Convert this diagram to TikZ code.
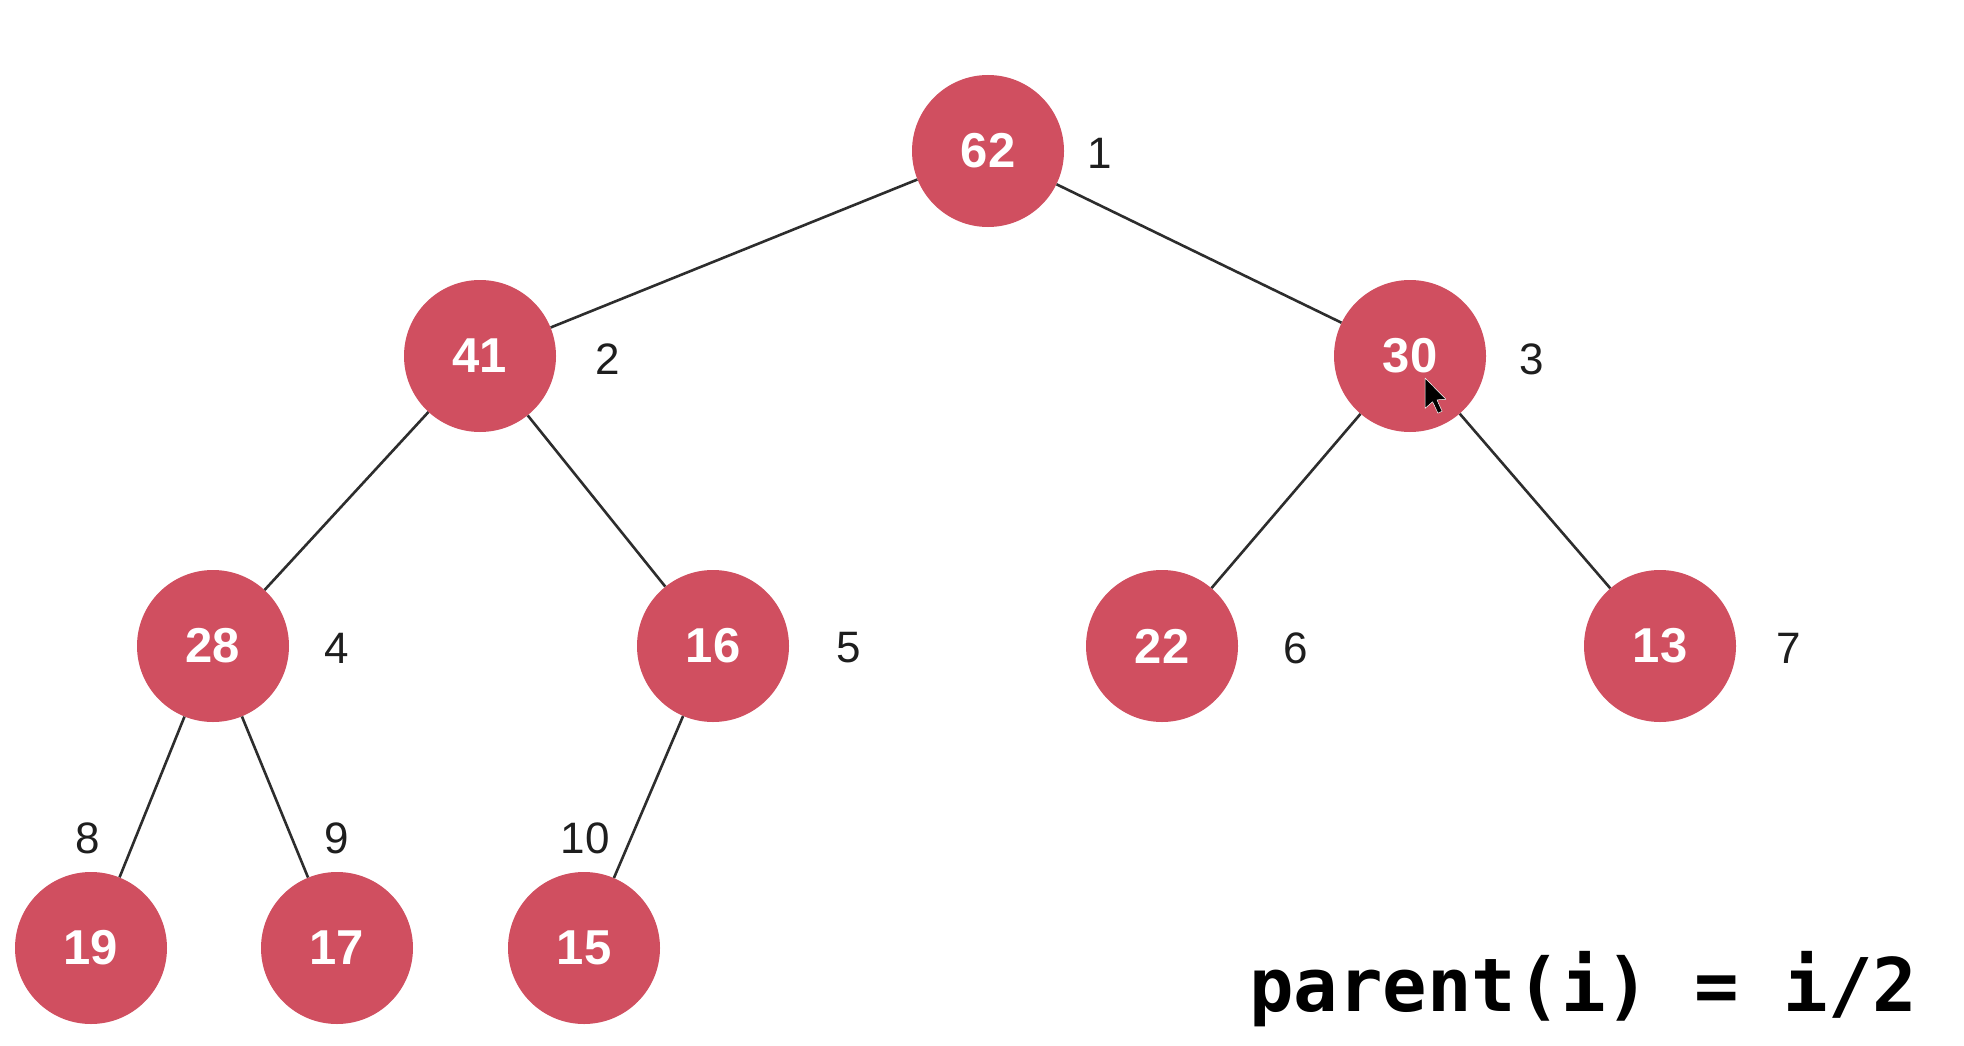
\documentclass[tikz,border=0pt]{standalone}
\usepackage{fontspec}
\setmainfont{Liberation Sans}
\newfontfamily\codefont{DejaVu Sans Mono}
\definecolor{heapred}{RGB}{208,79,96}
\definecolor{edgegray}{RGB}{45,45,45}
\definecolor{labelgray}{RGB}{30,30,30}
\tikzset{
  heapnode/.style={circle, fill=heapred, draw=none, minimum size=152pt, inner sep=0pt,
    text=white, font=\fontsize{49}{52}\selectfont\bfseries},
  idxlabel/.style={inner sep=0pt, text=labelgray, font=\fontsize{44}{48}\selectfont},
  edge/.style={draw=edgegray, line width=2.6pt},
  formula/.style={inner sep=0pt, anchor=base west, text=black,
    font=\codefont\bfseries\fontsize{74}{80}\selectfont}
}
\begin{document}
\begin{tikzpicture}[x=1pt,y=-1pt]
\useasboundingbox[fill=white] (0,0) rectangle (1964,1046);
% nodes
\node[heapnode] (n1)  at (988,151) {62};
\node[heapnode] (n2)  at (480,356) {41};
\node[heapnode] (n3)  at (1410,356) {30};
\node[heapnode] (n4)  at (213,646) {28};
\node[heapnode] (n5)  at (713,646) {16};
\node[heapnode] (n6)  at (1162,646) {22};
\node[heapnode] (n7)  at (1660,646) {13};
\node[heapnode] (n8)  at (91,948) {19};
\node[heapnode] (n9)  at (337,948) {17};
\node[heapnode] (n10) at (584,948) {15};
% edges
\begin{scope}[on background layer/.style={}]
\end{scope}
\draw[edge] (n1) -- (n2);
\draw[edge] (n1) -- (n3);
\draw[edge] (n2) -- (n4);
\draw[edge] (n2) -- (n5);
\draw[edge] (n3) -- (n6);
\draw[edge] (n3) -- (n7);
\draw[edge] (n4) -- (n8);
\draw[edge] (n4) -- (n9);
\draw[edge] (n5) -- (n10);
% index labels
\node[idxlabel] (l1)  at (1100,153) {1};
\node[idxlabel] (l2)  at (608,359) {2};
\node[idxlabel] (l3)  at (1532,359) {3};
\node[idxlabel] (l4)  at (337,648) {4};
\node[idxlabel] (l5)  at (849,648) {5};
\node[idxlabel] (l6)  at (1296,648) {6};
\node[idxlabel] (l7)  at (1789,648) {7};
\node[idxlabel] (l8)  at (88,838) {8};
\node[idxlabel] (l9)  at (337,838) {9};
\node[idxlabel] (l10) at (585,838) {10};
% formula
\node[formula] (f) at (1249,1011) {parent(i) = i/2};
% mouse cursor
\begin{scope}[shift={(1425,378)}, scale=1.9]
\fill[black, draw=white, line width=0.5pt, line join=round]
  (0,0) -- (0,16) -- (4,12.5) -- (6.8,18.5) -- (9,17.5) -- (6.3,11.5) -- (11,11.2) -- cycle;
\end{scope}
\end{tikzpicture}
\end{document}
